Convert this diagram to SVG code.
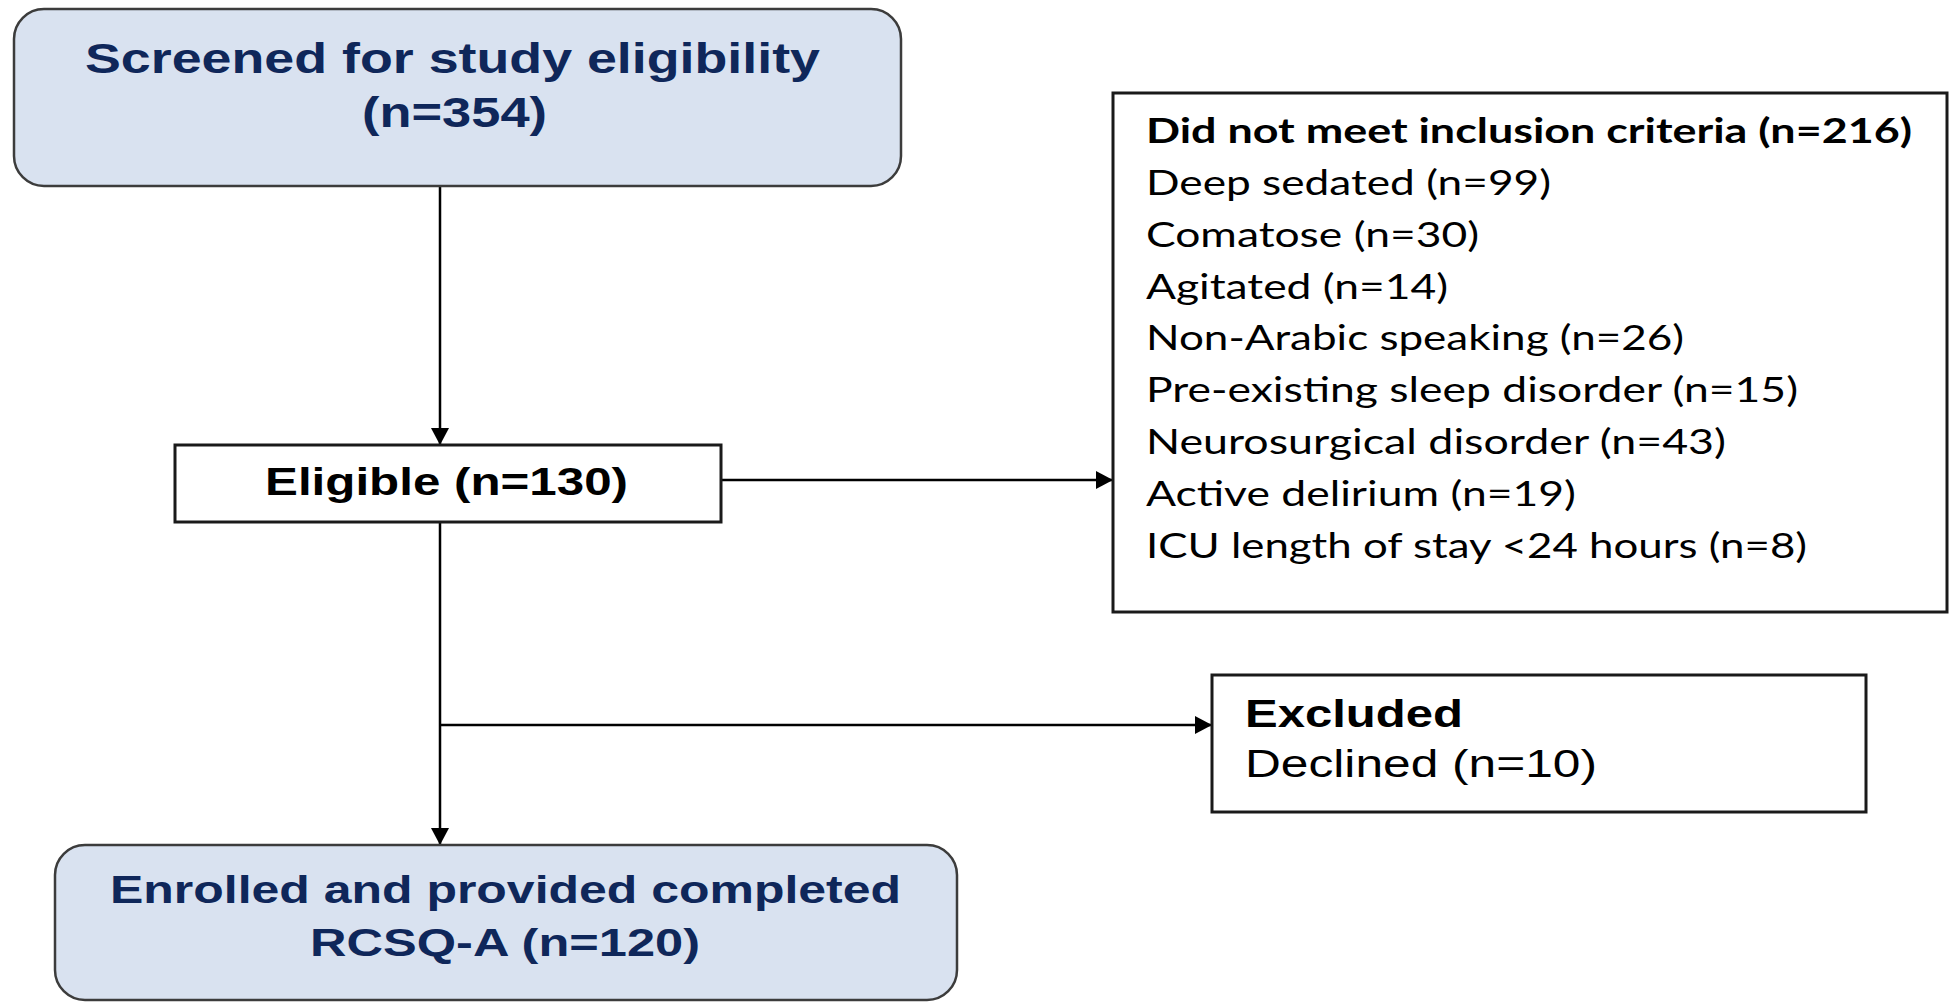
<svg xmlns="http://www.w3.org/2000/svg" width="1957" height="1002" viewBox="0 0 1957 1002">
<style>
.rbox{fill:#d9e2f0;stroke:#3c3c3c;stroke-width:2.5}
.box{fill:#ffffff;stroke:#1a1a1a;stroke-width:3}
.navy{font-family:"Liberation Sans",Arial,sans-serif;font-weight:bold;fill:#0f275a}
.blk{font-family:"Liberation Sans",Arial,sans-serif;fill:#000000}
.cal{font-family:Lato,"Open Sans",sans-serif;font-size:34px;fill:#000000}
.conn{stroke:#000000;stroke-width:2.5;fill:none}
</style>
<defs>
<marker id="ah" markerUnits="userSpaceOnUse" markerWidth="18" markerHeight="20" refX="17" refY="10" orient="auto">
<path d="M0,1 L17,10 L0,19 Z" fill="#000000"/>
</marker>
</defs>
<rect width="1957" height="1002" fill="#ffffff"/>
<g id="connectors">
<line class="conn" x1="440" y1="186" x2="440" y2="445" marker-end="url(#ah)"/>
<line class="conn" x1="440" y1="522" x2="440" y2="845" marker-end="url(#ah)"/>
<line class="conn" x1="721" y1="480" x2="1113" y2="480" marker-end="url(#ah)"/>
<line class="conn" x1="440" y1="725" x2="1212" y2="725" marker-end="url(#ah)"/>
</g>
<g id="screened">
<rect class="rbox" x="14" y="9" width="887" height="177" rx="30" ry="30"/>
<text class="navy" x="85" y="73" font-size="42" textLength="735" lengthAdjust="spacingAndGlyphs">Screened for study eligibility</text>
<text class="navy" x="362" y="127" font-size="42" textLength="185" lengthAdjust="spacingAndGlyphs">(n=354)</text>
</g>
<g id="eligible">
<rect class="box" x="175" y="445" width="546" height="77"/>
<text class="blk" x="265" y="495" font-size="38" font-weight="bold" textLength="363" lengthAdjust="spacingAndGlyphs">Eligible (n=130)</text>
</g>
<g id="criteria">
<rect class="box" x="1113" y="93" width="834" height="519" stroke-width="2.5"/>
<text class="cal" x="1146" y="143" font-weight="bold" textLength="766" lengthAdjust="spacingAndGlyphs">Did not meet inclusion criteria (n=216)</text>
<text class="cal" x="1146" y="195" textLength="405" lengthAdjust="spacingAndGlyphs">Deep sedated (n=99)</text>
<text class="cal" x="1146" y="247" textLength="333" lengthAdjust="spacingAndGlyphs">Comatose (n=30)</text>
<text class="cal" x="1146" y="299" textLength="302" lengthAdjust="spacingAndGlyphs">Agitated (n=14)</text>
<text class="cal" x="1146" y="350" textLength="538" lengthAdjust="spacingAndGlyphs">Non-Arabic speaking (n=26)</text>
<text class="cal" x="1146" y="402" textLength="652" lengthAdjust="spacingAndGlyphs">Pre-existing sleep disorder (n=15)</text>
<text class="cal" x="1146" y="454" textLength="580" lengthAdjust="spacingAndGlyphs">Neurosurgical disorder (n=43)</text>
<text class="cal" x="1146" y="506" textLength="430" lengthAdjust="spacingAndGlyphs">Active delirium (n=19)</text>
<text class="cal" x="1146" y="558" textLength="661" lengthAdjust="spacingAndGlyphs">ICU length of stay &lt;24 hours (n=8)</text>
</g>
<g id="excluded">
<rect class="box" x="1212" y="675" width="654" height="137" stroke-width="2.5"/>
<text class="blk" x="1245" y="727" font-size="38" font-weight="bold" textLength="218" lengthAdjust="spacingAndGlyphs">Excluded</text>
<text class="blk" x="1245" y="777" font-size="38" textLength="352" lengthAdjust="spacingAndGlyphs">Declined (n=10)</text>
</g>
<g id="enrolled">
<rect class="rbox" x="55" y="845" width="902" height="155" rx="30" ry="30"/>
<text class="navy" x="110" y="903" font-size="39" textLength="791" lengthAdjust="spacingAndGlyphs">Enrolled and provided completed</text>
<text class="navy" x="310" y="956" font-size="39" textLength="390" lengthAdjust="spacingAndGlyphs">RCSQ-A (n=120)</text>
</g>
</svg>
